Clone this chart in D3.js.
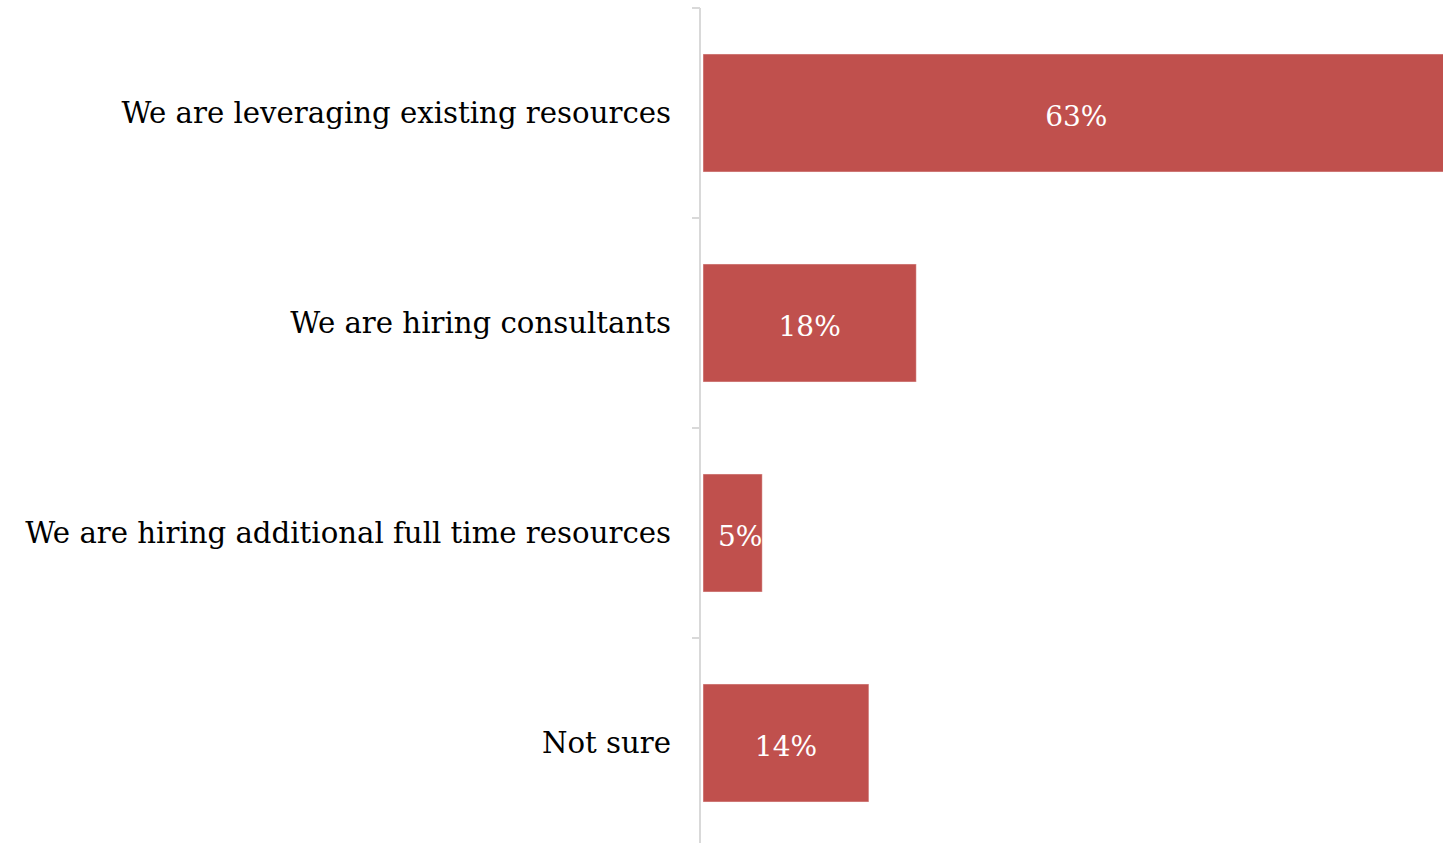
<!DOCTYPE html>
<html>
<head>
<meta charset="utf-8">
<script src="https://cdn.jsdelivr.net/npm/d3@7"></script>
<style>
  html, body { margin: 0; padding: 0; background: #fff; overflow: hidden; }
  svg { display: block; }
</style>
</head>
<body>
<svg id="chart" width="1443" height="843"></svg>
<script>
// Survey responses: how organisations are staffing the work
const categories = [
  "We are leveraging existing resources",
  "We are hiring consultants",
  "We are hiring additional full time resources",
  "Not sure"
];
const values = [63, 18, 5, 14];
const valueLabels = ["63%", "18%", "5%", "14%"];

const data = categories.map((c, i) => ({ category: c, value: values[i], label: valueLabels[i] }));

const svg = d3.select("#chart");

const axisX = 700;
const barX0 = 703;

const y = d3.scaleBand()
  .domain(categories)
  .range([8, 848])
  .paddingInner(0.438)
  .paddingOuter(0.219);

const x = d3.scaleLinear()
  .domain([0, 100])
  .range([barX0, barX0 + 1185]);

const serif = "'DejaVu Serif', 'Liberation Serif', serif";

// Bars
svg.append("g").selectAll("rect")
  .data(data)
  .join("rect")
  .attr("x", d => x(0))
  .attr("y", d => y(d.category))
  .attr("width", d => x(d.value) - x(0))
  .attr("height", y.bandwidth())
  .attr("fill", "#c0504d")
  .attr("stroke", "rgba(255,255,255,0.45)")
  .attr("stroke-width", 1);

// Clip paths so value labels stay inside their bars
const defs = svg.append("defs");
data.forEach((d, i) => {
  defs.append("clipPath").attr("id", "clip" + i)
    .append("rect")
    .attr("x", x(0))
    .attr("y", y(d.category))
    .attr("width", x(d.value) - x(0))
    .attr("height", y.bandwidth());
});

// Value labels
const labels = svg.append("g");
data.forEach((d, i) => {
  const t = labels.append("text")
    .attr("clip-path", `url(#clip${i})`)
    .attr("y", y(d.category) + y.bandwidth() / 2 + 3)
    .attr("dominant-baseline", "central")
    .attr("text-anchor", "middle")
    .attr("font-family", serif)
    .attr("font-size", 28)
    .attr("fill", "#ffffff")
    .text(d.label);
  const w = t.node().getComputedTextLength();
  const mid = (x(0) + x(d.value)) / 2;
  t.attr("x", Math.max(mid, x(0) + 15 + w / 2));
});

// Category axis
const axisG = svg.append("g");
axisG.append("line")
  .attr("x1", axisX).attr("x2", axisX)
  .attr("y1", y.range()[0]).attr("y2", y.range()[1])
  .attr("stroke", "#d9d9d9").attr("stroke-width", 2);

const boundaries = categories.map(c => y(c) - y.step() * y.paddingInner() / 2);
axisG.selectAll("line.tick")
  .data(boundaries)
  .join("line")
  .attr("class", "tick")
  .attr("x1", axisX - 8).attr("x2", axisX)
  .attr("y1", d => d).attr("y2", d => d)
  .attr("stroke", "#d9d9d9").attr("stroke-width", 2);

axisG.selectAll("text.cat")
  .data(categories)
  .join("text")
  .attr("class", "cat")
  .attr("x", 671)
  .attr("y", d => y(d) + y.bandwidth() / 2)
  .attr("dominant-baseline", "central")
  .attr("text-anchor", "end")
  .attr("font-family", serif)
  .attr("font-size", 29.2)
  .attr("fill", "#000")
  .text(d => d);
</script>
</body>
</html>
